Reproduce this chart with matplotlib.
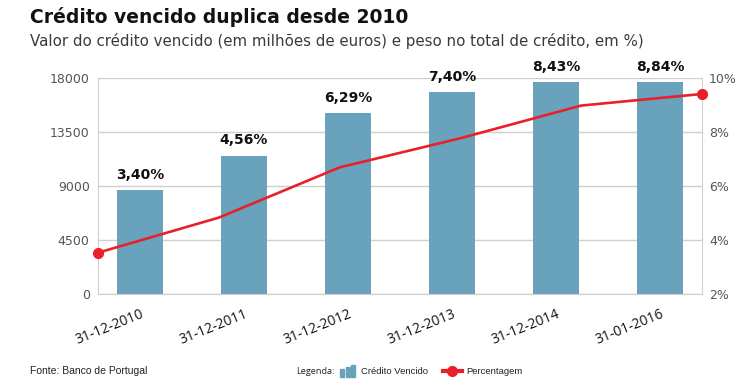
import matplotlib
matplotlib.use("Agg")
import matplotlib.pyplot as plt
import numpy as np
from matplotlib.patches import Rectangle
from matplotlib.lines import Line2D

dates = ["31-12-2010", "31-12-2011", "31-12-2012", "31-12-2013", "31-12-2014", "31-01-2016"]
credito = [8700, 11550, 15080, 16830, 17670, 17690]
percent_line = [3.54, 4.84, 6.70, 7.78, 8.99, 9.42]
percent_labels = ["3,40%", "4,56%", "6,29%", "7,40%", "8,43%", "8,84%"]
left_ticks = [0, 4500, 9000, 13500, 18000]
right_ticks = [2, 4, 6, 8, 10]

BAR = "#68a2bd"
RED = "#e8202a"
GRID = "#cfcfcf"

fig = plt.figure(figsize=(7.44, 3.91), dpi=100)
pos = [98/744, 1-294.3/391, (702-98)/744, (294.3-78.3)/391]
ax = fig.add_axes(pos)
x = np.arange(len(dates))
ax.bar(x, credito, width=0.45, color=BAR, zorder=2)
ax.set_xlim(-0.404, len(dates) - 1 + 0.404)
ax.set_ylim(0, 18000)
ax.set_yticks(left_ticks)
ax.set_yticklabels([str(v) for v in left_ticks], family="DejaVu Sans", fontsize=9, color="#555555")
ax.yaxis.grid(True, color=GRID, lw=1, zorder=0)
ax.set_axisbelow(True)
for s in ["left", "bottom", "right"]:
    ax.spines[s].set_color(GRID)
ax.spines["top"].set_visible(False)
ax.tick_params(axis="both", length=0, pad=6)
ax.set_xticks(x)
ax.set_xticklabels(dates, rotation=22, ha="right", rotation_mode="anchor",
                   family="Open Sans", fontsize=10, color="#111111")
ax.tick_params(axis="x", pad=9)
for xi, v, lab in zip(x, credito, percent_labels):
    ax.annotate(lab, (xi, v), xytext=(0, 6), textcoords="offset points",
                ha="center", va="bottom", fontsize=10, fontweight="bold",
                family="DejaVu Sans", color="#111111")

ax2 = fig.add_axes(pos, frameon=False)
xl = np.arange(len(percent_line))
ax2.plot(xl, percent_line, color=RED, lw=1.9, zorder=3, clip_on=False)
ax2.plot([xl[0], xl[-1]], [percent_line[0], percent_line[-1]], "o", color=RED,
         ms=7, zorder=4, clip_on=False)
ax2.set_xlim(0, len(percent_line) - 1)
ax2.set_ylim(2, 10)
ax2.set_xticks([])
ax2.yaxis.tick_right()
ax2.set_yticks(right_ticks)
ax2.set_yticklabels([f"{v}%" for v in right_ticks], family="DejaVu Sans", fontsize=9, color="#555555")
ax2.tick_params(axis="y", length=0, pad=5)

fig.text(30/744, 1-23.3/391, "Crédito vencido duplica desde 2010", fontsize=13.5,
         fontweight="bold", family="DejaVu Sans", va="baseline", color="#111111")
fig.text(30/744, 1-46/391, "Valor do crédito vencido (em milhões de euros) e peso no total de crédito, em %)",
         fontsize=10.8, family="DejaVu Sans", va="baseline", color="#3a3a3a")
fig.text(30/744, 1-371.5/391, "Fonte: Banco de Portugal", fontsize=7.5, family="Liberation Sans",
         va="center", color="#222222")
fig.text(296/744, 1-372/391, "Legenda:", fontsize=6.6, family="Open Sans", va="center", color="#222222")
for i, h in enumerate([8, 10, 12]):
    fig.patches.append(Rectangle(((340 + i*5.5)/744, 1-377/391), 4/744, h/391,
                                 transform=fig.transFigure, color=BAR))
fig.text(361/744, 1-372/391, "Crédito Vencido", fontsize=6.8, family="Liberation Sans",
         va="center", color="#222222")
fig.lines.append(Line2D([443/744, 462/744], [1-371/391, 1-371/391], transform=fig.transFigure,
                        color=RED, lw=3))
fig.lines.append(Line2D([452.5/744], [1-371/391], transform=fig.transFigure,
                        color=RED, marker="o", ms=7, lw=0))
fig.text(466/744, 1-372/391, "Percentagem", fontsize=6.8, family="Liberation Sans",
         va="center", color="#222222")

fig.savefig("out.png", dpi=100)
